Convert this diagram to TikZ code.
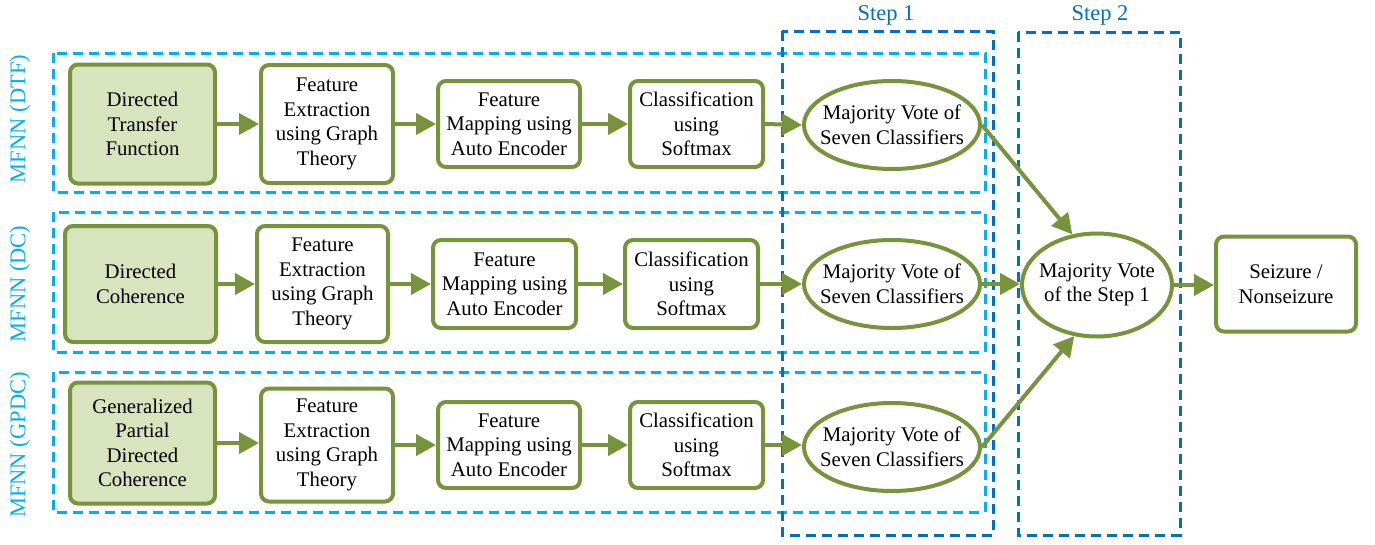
\documentclass[tikz,border=0pt]{standalone}
\usepackage{fontspec}
\setmainfont{Liberation Serif}
\usetikzlibrary{arrows.meta,shapes.geometric}
\definecolor{grn}{HTML}{77933C}
\definecolor{lgrn}{HTML}{D7E4BD}
\definecolor{lblue}{HTML}{00B0F0}
\definecolor{dblue}{HTML}{0070C0}
\begin{document}
\begin{tikzpicture}[x=1pt,y=-1pt,
  txt/.style={font=\fontsize{20.8}{24.5}\selectfont},
  box/.style={txt, draw=grn, line width=4pt, rounded corners=8pt, align=center, inner sep=0pt, fill=white},
  srcbox/.style={box, fill=lgrn},
  vote/.style={txt, ellipse, draw=grn, line width=4pt, align=center, inner xsep=-15pt, inner ysep=0pt, fill=white},
  arr/.style={draw=grn, line width=4pt, -{Triangle[length=20pt,width=21pt]}},
  rowbox/.style={draw=lblue, line width=3pt, dash pattern=on 10pt off 6pt},
  stepbox/.style={draw=dblue, line width=3pt, dash pattern=on 10pt off 6pt},
  rowlabel/.style={text=lblue, rotate=90, font=\fontsize{22.5}{24}\selectfont},
  steplabel/.style={text=dblue, font=\fontsize{22.5}{24}\selectfont}
]
\useasboundingbox (0,0) rectangle (1375,544);

% dashed grouping boxes
\draw[rowbox] (53,53) rectangle (985,192);
\draw[rowbox] (53,212) rectangle (985,352);
\draw[rowbox] (53,372) rectangle (985,512);
\draw[stepbox] (782,31) rectangle (993,535);
\draw[stepbox] (1018,32) rectangle (1180,535);

\node[steplabel] (st1) at (886,15) {Step 1};
\node[steplabel] (st2) at (1100,15) {Step 2};

\node[rowlabel] (l1) at (20,119) {MFNN (DTF)};
\node[rowlabel] (l2) at (20,284) {MFNN (DC)};
\node[rowlabel] (l3) at (20,445) {MFNN (GPDC)};

% row 1
\node[srcbox, minimum width=145pt, minimum height=119pt] (d1) at (142.5,124) {Directed\\Transfer\\Function};
\node[box, minimum width=132pt, minimum height=118pt] (f1) at (327,124) {Feature\\Extraction\\using Graph\\Theory};
\node[box, minimum width=142pt, minimum height=86pt] (m1) at (509,124) {Feature\\Mapping using\\Auto Encoder};
\node[box, minimum width=133pt, minimum height=86pt] (c1) at (696.5,124) {Classification\\using\\Softmax};
\node[vote, minimum width=176pt, minimum height=88pt] (e1) at (892,125) {Majority Vote of\\Seven Classifiers};

% row 2
\node[srcbox, minimum width=151pt, minimum height=116pt] (d2) at (140.5,284) {Directed\\Coherence};
\node[box, minimum width=131pt, minimum height=116pt] (f2) at (322.5,284) {Feature\\Extraction\\using Graph\\Theory};
\node[box, minimum width=143pt, minimum height=88pt] (m2) at (504.5,284) {Feature\\Mapping using\\Auto Encoder};
\node[box, minimum width=133pt, minimum height=88pt] (c2) at (691.5,284) {Classification\\using\\Softmax};
\node[vote, minimum width=176pt, minimum height=88pt] (e2) at (892,284) {Majority Vote of\\Seven Classifiers};

% row 3
\node[srcbox, minimum width=145pt, minimum height=121pt] (d3) at (142.5,443) {Generalized\\Partial\\Directed\\Coherence};
\node[box, minimum width=132pt, minimum height=113pt] (f3) at (327,445) {Feature\\Extraction\\using Graph\\Theory};
\node[box, minimum width=142pt, minimum height=86pt] (m3) at (509,445) {Feature\\Mapping using\\Auto Encoder};
\node[box, minimum width=133pt, minimum height=86pt] (c3) at (696.5,445) {Classification\\using\\Softmax};
\node[vote, minimum width=176pt, minimum height=88pt] (e3) at (892,447) {Majority Vote of\\Seven Classifiers};

% step 2
\node[vote, minimum width=150pt, minimum height=103pt] (s2) at (1097,285) {Majority Vote\\of the Step 1};
\node[box, minimum width=140pt, minimum height=95pt] (out) at (1286,284) {Seizure /\\Nonseizure};

% connectors
\draw[arr] (d1.east) -- (f1.west);
\draw[arr] (f1.east) -- (m1.west);
\draw[arr] (m1.east) -- (c1.west);
\draw[arr] (c1.east) -- (e1.west);
\draw[arr] (d2.east) -- (d2.east -| f2.west);
\draw[arr] (f2.east) -- (m2.west);
\draw[arr] (m2.east) -- (c2.west);
\draw[arr] (c2.east) -- (e2.west);
\draw[arr] (d3.east) -- (d3.east -| f3.west);
\draw[arr] (f3.east) -- (m3.west);
\draw[arr] (m3.east) -- (c3.west);
\draw[arr] (c3.east) -- (c3.east -| e3.west);
\draw[arr] (e1.east) -- (s2.116);
\draw[arr] (e2.east) -- (e2.east -| s2.west);
\draw[arr] (e3.east) -- (s2.-114);
\draw[arr] (s2.east) -- (s2.east -| out.west);
\end{tikzpicture}
\end{document}
